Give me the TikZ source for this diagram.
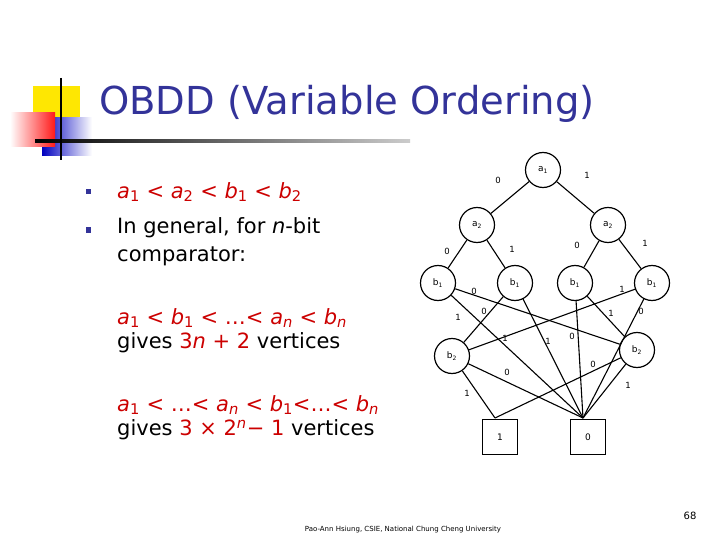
\documentclass[tikz,border=0pt]{standalone}
\usepackage{fontspec}
\setmainfont{DejaVu Sans}
\usetikzlibrary{shapes.geometric}
\definecolor{navy}{RGB}{51,51,153}
\definecolor{myred}{RGB}{204,0,0}
\begin{document}
\begin{tikzpicture}[x=1pt,y=-1pt,
  vn/.style={circle,draw,line width=1.2pt,minimum size=35pt,inner sep=0pt,font=\fontsize{9}{10}\selectfont},
  tn/.style={rectangle,draw,line width=1.2pt,minimum size=35pt,inner sep=0pt,font=\fontsize{9}{10}\selectfont},
  el/.style={line width=1.1pt},
  lb/.style={font=\fontsize{8.5}{9}\selectfont,inner sep=0pt},
  body/.style={anchor=west,inner sep=0pt,font=\fontsize{21}{23}\selectfont}]
\useasboundingbox (0,0) rectangle (720,540);
\fill[white] (0,0) rectangle (720,540);
% logo
\fill[yellow!90!orange] (33,86) rectangle (80,118);
\shade[left color=blue!75!black, right color=white] (42,118) rectangle (92,156);
\shade[left color=white, right color=red!90] (10,113) rectangle (55,147);
\shade[left color=black, right color=black!20] (35,140) rectangle (410,143);
\draw[line width=1.8pt] (61,78) -- (61,160);
\node[anchor=west,text=navy,font=\fontsize{38.5}{40}\selectfont,inner sep=0pt] (title) at (99,104) {OBDD (Variable Ordering)};
% bullets
\node[fill=navy,minimum size=5pt,inner sep=0pt] (bu1) at (88,192) {};
\node[fill=navy,minimum size=5pt,inner sep=0pt] (bu2) at (88,230) {};
\node[body,text=myred] (t1) at (117,192) {\textit{a}\textsubscript{1} < \textit{a}\textsubscript{2} < \textit{b}\textsubscript{1} < \textit{b}\textsubscript{2}};
\node[body] (t2) at (117,228) {In general, for \textit{n}-bit};
\node[body] (t3) at (117,256) {comparator:};
\node[body,text=myred] (t4) at (117,318) {\textit{a}\textsubscript{1} < \textit{b}\textsubscript{1} < …< \textit{a}\textsubscript{\textit{n}} < \textit{b}\textsubscript{\textit{n}}};
\node[body] (t5) at (117,343) {gives \textcolor{myred}{3\textit{n} + 2} vertices};
\node[body,text=myred] (t6) at (117,405) {\textit{a}\textsubscript{1} < …< \textit{a}\textsubscript{\textit{n}} < \textit{b}\textsubscript{1}<…< \textit{b}\textsubscript{\textit{n}}};
\node[body] (t7) at (117,430) {gives \textcolor{myred}{3 × 2\textsuperscript{\textit{n}}− 1} vertices};
\node[font=\fontsize{7}{8}\selectfont] (foot) at (403,530) {Pao-Ann Hsiung, CSIE, National Chung Cheng University};
\node[font=\fontsize{10}{12}\selectfont] (pg) at (690,516) {68};
% BDD
\node[vn] (a1) at (543,170) {a\textsubscript{1}};
\node[vn] (a2l) at (477,225) {a\textsubscript{2}};
\node[vn] (a2r) at (608,225) {a\textsubscript{2}};
\node[vn] (b11) at (438,283) {b\textsubscript{1}};
\node[vn] (b12) at (515,283) {b\textsubscript{1}};
\node[vn] (b13) at (575,283) {b\textsubscript{1}};
\node[vn] (b14) at (652,283) {b\textsubscript{1}};
\node[vn] (b2l) at (452,356) {b\textsubscript{2}};
\node[vn] (b2r) at (637,350) {b\textsubscript{2}};
\node[tn] (one) at (500,437) {1};
\node[tn] (zero) at (588,437) {0};
\coordinate (p1) at (495,418);
\coordinate (p0) at (583,418);
\draw[el] (a1)--(a2l); \draw[el] (a1)--(a2r);
\draw[el] (a2l)--(b11); \draw[el] (a2l)--(b12);
\draw[el] (a2r)--(b13); \draw[el] (a2r)--(b14);
\draw[el] (b11)--(b2r); \draw[el] (b11)--(p0);
\draw[el] (b12)--(b2l); \draw[el] (b12)--(p0);
\draw[el] (b13)--(p0); \draw[el] (b13)--(b2r);
\draw[el] (b14)--(b2l); \draw[el] (b14)--(p0);
\draw[el] (b2l)--(p1); \draw[el] (b2l)--(p0);
\draw[el] (b2r)--(p1); \draw[el] (b2r)--(p0);
\node[lb] (l1) at (498,180) {0}; \node[lb] (l2) at (587,175) {1};
\node[lb] (l3) at (447,251) {0}; \node[lb] (l4) at (512,249) {1};
\node[lb] (l5) at (577,245) {0}; \node[lb] (l6) at (645,243) {1};
\node[lb] (l7) at (474,291) {0}; \node[lb] (l8) at (458,317) {1};
\node[lb] (l9) at (484,311) {0}; \node[lb] (l10) at (548,341) {1};
\node[lb] (l11) at (572,336) {0}; \node[lb] (l12) at (611,313) {1};
\node[lb] (l13) at (622,289) {1}; \node[lb] (l14) at (641,311) {0};
\node[lb] (l15) at (505,338) {1};
\node[lb] (l16) at (507,372) {0}; \node[lb] (l17) at (467,393) {1};
\node[lb] (l18) at (593,364) {0}; \node[lb] (l19) at (628,385) {1};
\end{tikzpicture}
\end{document}
